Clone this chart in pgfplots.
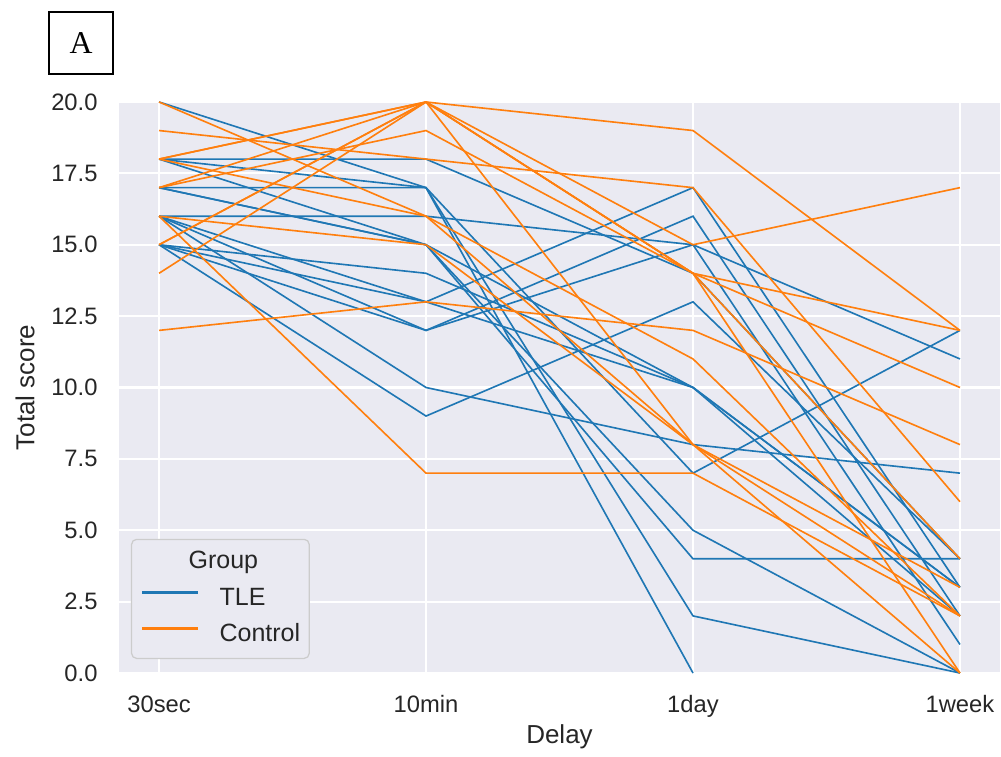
\documentclass[border=0pt]{standalone}
\usepackage{pgfplots}
\pgfplotsset{compat=1.18}
\usepackage{pgfplotstable}
\usepackage{fontspec}
\setmainfont{Liberation Sans}
\newfontfamily\seriffont{Liberation Serif}

\definecolor{tle}{HTML}{1F77B4}
\definecolor{ctrl}{HTML}{FF7F0E}
\definecolor{panel}{HTML}{EAEAF2}
\definecolor{ink}{HTML}{262626}
\definecolor{legedge}{HTML}{CCCCCC}

% Total score per subject (columns) at each delay (rows: 0=30sec,1=10min,2=1day,3=1week)
\pgfplotstableread{
d  s1  s2 s3 s4 s5 s6 s7 s8 s9 s10 s11 s12 s13 s14 s15
0  20  18 17 16 18 17 18 15 16 15  16  15  16  17  15
1  17  17 17 16 15 15 18 13 12 12  13  9   10  15  14
2  0   2  7  15 10 5  14 17 16 15  10  13  8   4   10
3  nan 0  12 11 3  0  4  3  2  1   3   4   7   4   2
}\tleData

\pgfplotstableread{
d  s1 s2 s3 s4 s5 s6 s7 s8 s9 s10 s11 s12 s13
0  20 19 18 17 18 17 15 14 16 12  18  16  15
1  16 18 20 20 20 19 20 20 7  13  16  15  20
2  8  17 19 15 14 14 14 8  7  12  11  8   14
3  2  6  12 17 12 10 4  0  2  8   2   3   0
}\ctrlData

\begin{document}
\begin{tikzpicture}
\path[use as bounding box] (-47.6pt,-33.2pt) rectangle (352.8pt,269.2pt);
\begin{axis}[
  at={(0pt,0pt)}, anchor=south west,
  scale only axis, width=352.4pt, height=228.4pt,
  xmin=-0.15, xmax=3.15, ymin=0, ymax=20,
  unbounded coords=discard,
  xtick={0,1,2,3}, xticklabels={30sec,10min,1day,1week},
  ytick={0,2.5,5,7.5,10,12.5,15,17.5,20},
  /pgf/number format/fixed, /pgf/number format/fixed zerofill,
  /pgf/number format/precision=1, /pgf/number format/assume math mode=true,
  grid=major, major grid style={white, line width=0.9pt},
  axis line style={draw=none}, major tick length=0pt,
  axis background/.style={fill=panel},
  no markers,
  tick label style={font=\fontsize{9.5}{11}\selectfont, text=ink, inner sep=0pt},
  xticklabel style={anchor=north, yshift=-8.8pt},
  yticklabel style={anchor=east, xshift=-8.4pt},
  xlabel={Delay}, ylabel={Total score},
  every axis x label/.style={at={(axis description cs:0.5,0)}, anchor=center, yshift=-25.6pt, font=\fontsize{10.4}{12}\selectfont, text=ink},
  every axis y label/.style={at={(axis description cs:0,0.5)}, xshift=-37.6pt, rotate=90, anchor=center, font=\fontsize{10.4}{12}\selectfont, text=ink},
  legend style={at={(rel axis cs:0.0136,0.0245)}, anchor=south west,
    fill=panel, draw=legedge, rounded corners=2pt, line width=0.5pt,
    font=\fontsize{10}{12}\selectfont, text=ink,
    inner xsep=3.6pt, inner ysep=4.6pt, column sep=8pt, row sep=5.4pt,
    nodes={inner sep=0pt, text height=7.2pt, text depth=2pt}},
  legend cell align=left,
  legend image code/.code={\draw[#1] (0pt,2.6pt) -- (22.4pt,2.6pt);},
]
\pgfplotsinvokeforeach{1,...,15}{
  \addplot[tle, line width=0.65pt, forget plot] table[x=d, y=s#1] {\tleData};
}
\pgfplotsinvokeforeach{1,...,13}{
  \addplot[ctrl, line width=0.65pt, forget plot] table[x=d, y=s#1] {\ctrlData};
}
\addlegendimage{empty legend}
\addlegendentry{\hspace{-12.4pt}Group}
\addlegendimage{tle, line width=1.2pt}
\addlegendentry{TLE}
\addlegendimage{ctrl, line width=1.2pt}
\addlegendentry{Control}
\end{axis}
% panel letter
\draw[line width=1pt] (-28pt,239.6pt) rectangle (-2.4pt,264.4pt);
\node[font=\seriffont\fontsize{12.7}{14}\selectfont] at (-15.2pt,252pt) {A};
\end{tikzpicture}
\end{document}
